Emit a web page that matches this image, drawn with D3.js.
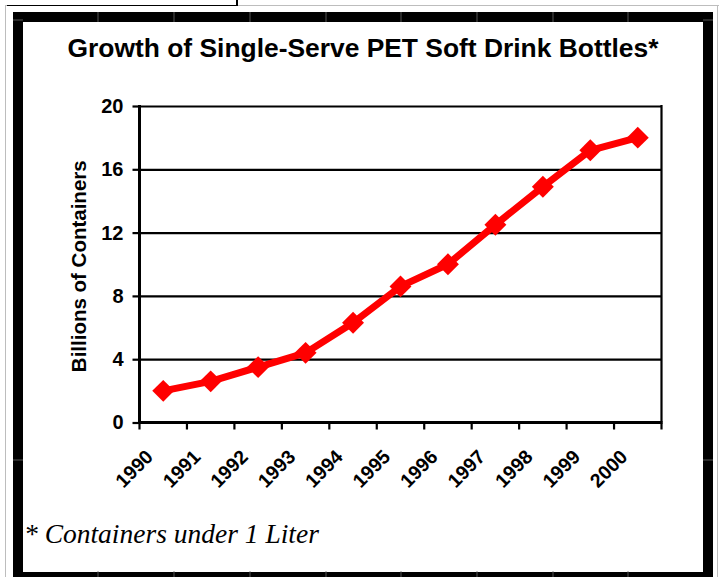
<!DOCTYPE html>
<html>
<head>
<meta charset="utf-8">
<script src="https://cdn.jsdelivr.net/npm/d3@7"></script>
<style>
  html, body { margin: 0; padding: 0; background: #fff; }
  svg { display: block; }
</style>
</head>
<body>
<svg id="chart" width="719" height="577"></svg>
<script>
// Single-serve PET soft drink bottles, billions of containers per year
const years = ["1990","1991","1992","1993","1994","1995","1996","1997","1998","1999","2000"];
const containers = [2.0, 2.6, 3.5, 4.4, 6.3, 8.6, 10.0, 12.5, 14.9, 17.2, 18.0];
const yTicks = [0, 4, 8, 12, 16, 20];

const titleText = "Growth of Single-Serve PET Soft Drink Bottles*";
const yLabel = "Billions of Containers";
const footnote = "* Containers under 1 Liter";

const W = 719, H = 577;
const svg = d3.select("#chart");
const sans = "Liberation Sans, Arial, sans-serif";

// Sheet gridlines behind the framed chart
const sheet = svg.append("g");
sheet.append("line").attr("x1", 5).attr("x2", W).attr("y1", 5.5).attr("y2", 5.5)
  .attr("stroke", "#bdbdbd").attr("stroke-width", 1);
sheet.append("line").attr("x1", 5.5).attr("x2", 5.5).attr("y1", 5).attr("y2", H)
  .attr("stroke", "#bdbdbd").attr("stroke-width", 1);
sheet.append("line").attr("x1", 717.5).attr("x2", 717.5).attr("y1", 5).attr("y2", H)
  .attr("stroke", "#bdbdbd").attr("stroke-width", 1);
sheet.append("line").attr("x1", 7).attr("x2", 237).attr("y1", 5.5).attr("y2", 5.5)
  .attr("stroke", "#000").attr("stroke-width", 1.2);
sheet.append("line").attr("x1", 237).attr("x2", 237).attr("y1", 0).attr("y2", 6)
  .attr("stroke", "#000").attr("stroke-width", 2);

// Thick black frame
const frame = { x0: 13, y0: 12, x1: 713, y1: 582, t: 10 };
svg.append("rect")
  .attr("x", frame.x0 + frame.t / 2).attr("y", frame.y0 + frame.t / 2)
  .attr("width", frame.x1 - frame.x0 - frame.t).attr("height", frame.y1 - frame.y0 - frame.t)
  .attr("fill", "#fff").attr("stroke", "#000").attr("stroke-width", frame.t);

// Faint cell boundaries showing through the frame
const cellX = [98, 174, 250, 326, 401, 477, 553, 628];
const seams = svg.append("g").attr("stroke", "#6a6a6a").attr("stroke-width", 0.8);
cellX.forEach(cx => {
  seams.append("line").attr("x1", cx).attr("x2", cx).attr("y1", frame.y0).attr("y2", frame.y0 + frame.t);
  seams.append("line").attr("x1", cx).attr("x2", cx).attr("y1", 571).attr("y2", H);
});
[20, 460].forEach(cy => {
  seams.append("line").attr("x1", frame.x0).attr("x2", frame.x0 + frame.t).attr("y1", cy).attr("y2", cy);
  seams.append("line").attr("x1", frame.x1 - frame.t).attr("x2", frame.x1).attr("y1", cy).attr("y2", cy);
});

// Plot area
const plot = { left: 139.5, right: 661.5, top: 106, bottom: 422.5 };

const x = d3.scaleBand().domain(years).range([plot.left, plot.right]).padding(0);
const y = d3.scaleLinear().domain([0, 20]).range([plot.bottom, plot.top]);

// Title
svg.append("text")
  .attr("x", 363).attr("y", 57)
  .attr("text-anchor", "middle")
  .attr("font-family", sans)
  .attr("font-weight", "bold").attr("font-size", 26.4)
  .attr("fill", "#000")
  .text(titleText);

// Horizontal gridlines
svg.append("g")
  .attr("transform", `translate(${plot.left},0)`)
  .call(d3.axisLeft(y).tickValues(yTicks).tickSize(-(plot.right - plot.left)).tickFormat(""))
  .call(g => g.select(".domain").remove())
  .call(g => g.selectAll(".tick line").attr("stroke", "#000").attr("stroke-width", 2.2));

// Plot border (right edge)
svg.append("line")
  .attr("x1", plot.right).attr("x2", plot.right)
  .attr("y1", plot.top - 1).attr("y2", plot.bottom)
  .attr("stroke", "#000").attr("stroke-width", 2.2);

// Y axis
svg.append("g")
  .attr("transform", `translate(${plot.left},0)`)
  .call(d3.axisLeft(y).tickValues(yTicks).tickSize(7).tickPadding(9).tickFormat(d3.format("d")))
  .call(g => g.select(".domain").attr("stroke", "#000").attr("stroke-width", 3)
    .attr("d", `M0,${plot.top - 1}V${plot.bottom + 1}`))
  .call(g => g.selectAll(".tick line").attr("stroke", "#000").attr("stroke-width", 2.2))
  .call(g => g.selectAll(".tick text")
    .attr("font-family", sans)
    .attr("font-weight", "bold").attr("font-size", 20).attr("fill", "#000"));

// X axis with ticks on category boundaries
const boundaries = years.map(d => x(d)).concat([x(years[years.length - 1]) + x.bandwidth()]);
const xAxis = svg.append("g");
xAxis.append("line")
  .attr("x1", plot.left - 1.5).attr("x2", plot.right + 1)
  .attr("y1", plot.bottom).attr("y2", plot.bottom)
  .attr("stroke", "#000").attr("stroke-width", 3);
xAxis.selectAll("line.tick")
  .data(boundaries)
  .join("line").attr("class", "tick")
  .attr("x1", d => d).attr("x2", d => d)
  .attr("y1", plot.bottom).attr("y2", plot.bottom + 7)
  .attr("stroke", "#000").attr("stroke-width", 2.2);
xAxis.selectAll("text")
  .data(years)
  .join("text")
  .attr("transform", d => `translate(${x(d) + x.bandwidth() / 2 - 9},${plot.bottom + 35.5}) rotate(-45)`)
  .attr("text-anchor", "end")
  .attr("font-family", sans)
  .attr("font-weight", "bold").attr("font-size", 19.5)
  .attr("fill", "#000")
  .text(d => d);

// Y axis title
svg.append("text")
  .attr("transform", `translate(86,${(plot.top + plot.bottom) / 2 + 2}) rotate(-90)`)
  .attr("text-anchor", "middle")
  .attr("font-family", sans)
  .attr("font-weight", "bold").attr("font-size", 20.5)
  .attr("fill", "#000")
  .text(yLabel);

// Series line
const cx = d => x(d) + x.bandwidth() / 2;
const line = d3.line()
  .x((d, i) => cx(years[i]))
  .y(d => y(d));
svg.append("path")
  .datum(containers)
  .attr("d", line)
  .attr("fill", "none")
  .attr("stroke", "#ff0000")
  .attr("stroke-width", 7)
  .attr("stroke-linejoin", "round");

// Diamond markers
const diamond = d3.symbol().type(d3.symbolSquare).size(240);
svg.append("g").selectAll("path")
  .data(containers)
  .join("path")
  .attr("d", diamond)
  .attr("transform", (d, i) => `translate(${cx(years[i])},${y(d)}) rotate(45)`)
  .attr("fill", "#ff0000");

// Footnote
svg.append("text")
  .attr("x", 24).attr("y", 543)
  .attr("font-family", "Liberation Serif, Times New Roman, serif")
  .attr("font-style", "italic").attr("font-size", 27.5)
  .attr("fill", "#000")
  .text(footnote);
</script>
</body>
</html>
